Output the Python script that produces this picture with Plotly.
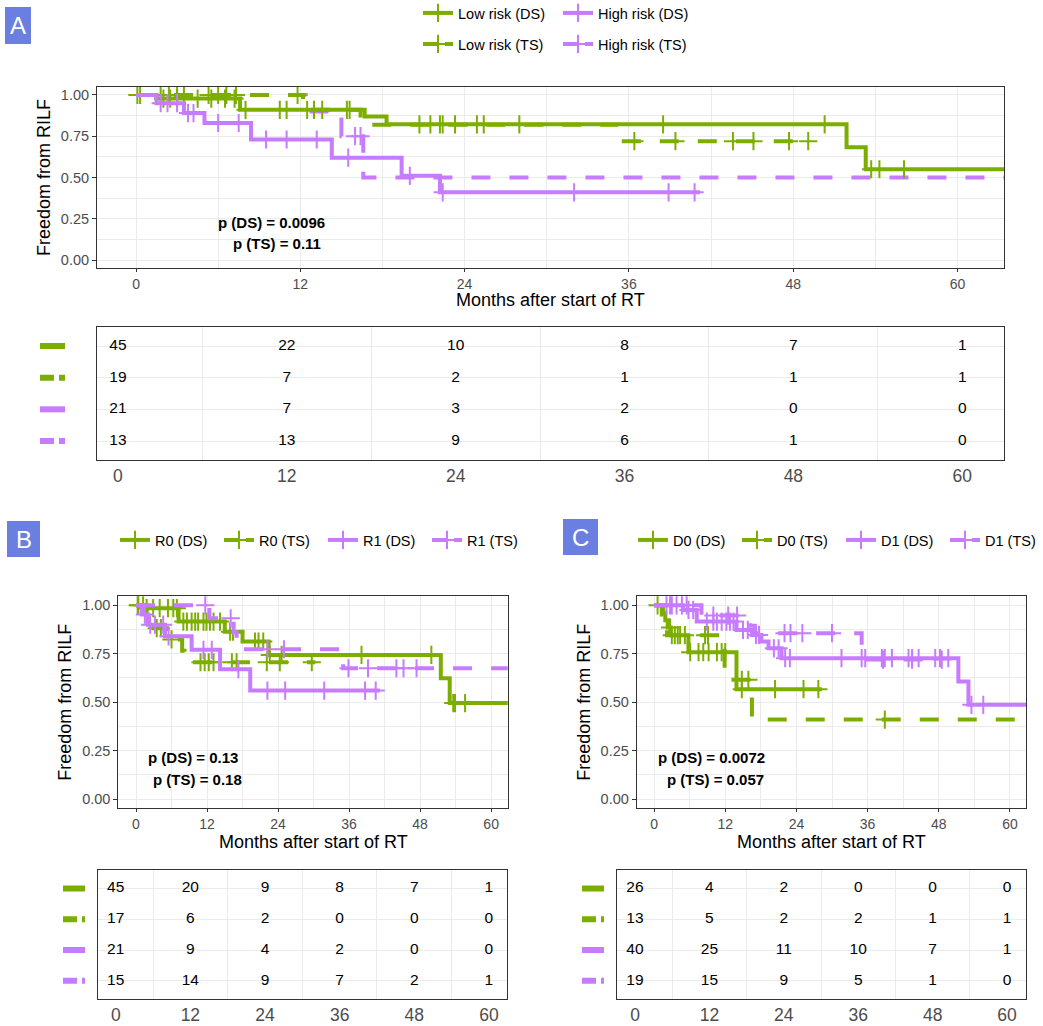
import plotly.graph_objects as go

GREEN = "#7CAE00"
PURPLE = "#C77CFF"
FONT = "Liberation Sans, Arial, sans-serif"
W, H = 1043, 1026

# ---------------- data: Panel A ----------------
A_names = ["Low risk (DS)", "High risk (DS)", "Low risk (TS)", "High risk (TS)"]
A_low_ds_t = [0, 1.5, 7.6, 16.7, 18.3, 51.9, 53.3]
A_low_ds_s = [1.0, 0.978, 0.91, 0.87, 0.822, 0.683, 0.55]
A_low_ds_c = [0.1, 2.0, 2.5, 3.0, 4.5, 5.5, 6.5, 7.2, 8.0, 10.5, 11.0, 12.5, 13.0, 13.6, 15.6,
              20.7, 21.5, 22.2, 22.4, 23.3, 24.9, 25.4, 28.0, 38.5, 50.3, 53.7, 54.3, 56.1]
A_low_ds_end = 64
A_low_ts_t = [0, 12.2, 16.4, 35.2]
A_low_ts_s = [1.0, 0.91, 0.82, 0.72]
A_low_ts_c = [0.3, 1.8, 2.4, 3.0, 3.5, 5.3, 6.0, 6.6, 7.3, 11.8, 15.4, 36.4, 39.4, 43.6, 45.1, 47.7, 49.1]
A_low_ts_end = 49.1
A_high_ds_t = [0, 1.5, 3.5, 5.0, 8.4, 14.3, 19.4, 22.2]
A_high_ds_s = [1.0, 0.95, 0.89, 0.83, 0.73, 0.62, 0.51, 0.41]
A_high_ds_c = [1.8, 2.3, 3.0, 3.8, 4.2, 6.0, 7.5, 9.5, 11.0, 13.2, 15.5, 20.0, 22.4, 32.0, 38.9, 40.8]
A_high_ds_end = 41.2
A_high_ts_t = [0, 12.4, 15.0, 16.6]
A_high_ts_s = [1.0, 0.9, 0.75, 0.5]
A_high_ts_c = [16.0, 16.4]
A_high_ts_end = 64
A_risk = [[45, 22, 10, 8, 7, 1],
          [19, 7, 2, 1, 1, 1],
          [21, 7, 3, 2, 0, 0],
          [13, 13, 9, 6, 1, 0]]
A_p = ["p (DS) = 0.0096", "p (TS) = 0.11"]

# ---------------- data: Panel B ----------------
B_names = ["R0 (DS)", "R0 (TS)", "R1 (DS)", "R1 (TS)"]
B_r0_ds_t = [0, 1.0, 7.2, 15.0, 18.0, 22.4, 51.5, 53.0]
B_r0_ds_s = [1.0, 0.985, 0.916, 0.864, 0.813, 0.744, 0.624, 0.495]
B_r0_ds_c = [0.4, 1.8, 2.9, 4.0, 5.4, 6.3, 6.9, 8.0, 8.6, 9.4, 10.0, 10.5, 11.4, 11.9, 12.5, 13.1,
             14.2, 15.9, 16.4, 20.1, 20.7, 21.5, 22.6, 24.6, 38.1, 49.9, 53.6, 53.9, 55.6]
B_r0_ds_end = 64
B_r0_ts_t = [0, 1.8, 3.0, 5.3, 7.8, 8.2]
B_r0_ts_s = [1.0, 0.941, 0.882, 0.824, 0.765, 0.706]
B_r0_ts_c = [0.3, 1.2, 3.5, 4.2, 6.0, 10.9, 11.6, 12.3, 13.1, 16.2, 17.0, 22.1, 24.3, 29.7]
B_r0_ts_end = 30.3
B_r1_ds_t = [0, 1.0, 2.0, 4.9, 9.4, 14.2, 19.3]
B_r1_ds_s = [1.0, 0.952, 0.9, 0.84, 0.77, 0.67, 0.56]
B_r1_ds_c = [1.5, 2.4, 3.2, 4.6, 5.5, 11.4, 12.8, 17.3, 22.2, 25.2, 31.8, 38.7, 40.5]
B_r1_ds_end = 41.2
B_r1_ts_t = [0, 12.4, 16.5, 17.0, 35.0]
B_r1_ts_s = [1.0, 0.933, 0.86, 0.773, 0.675]
B_r1_ts_c = [11.7, 16.0, 22.2, 25.0, 35.9, 39.2, 44.0, 45.2, 47.4]
B_r1_ts_end = 64
B_risk = [[45, 20, 9, 8, 7, 1],
          [17, 6, 2, 0, 0, 0],
          [21, 9, 4, 2, 0, 0],
          [15, 14, 9, 7, 2, 1]]
B_p = ["p (DS) = 0.13", "p (TS) = 0.18"]

# ---------------- data: Panel C ----------------
C_names = ["D0 (DS)", "D0 (TS)", "D1 (DS)", "D1 (TS)"]
C_d0_ds_t = [0, 1.5, 1.9, 2.3, 2.8, 5.8, 13.9]
C_d0_ds_s = [1.0, 0.962, 0.923, 0.885, 0.846, 0.758, 0.567]
C_d0_ds_c = [0.6, 2.7, 3.5, 4.4, 5.2, 6.1, 7.5, 8.3, 9.2, 10.6, 11.4, 12.0, 14.8, 20.4, 25.2, 27.7]
C_d0_ds_end = 28.3
C_d0_ts_t = [0, 1.3, 2.2, 11.9, 16.5]
C_d0_ts_s = [1.0, 0.923, 0.846, 0.615, 0.41]
C_d0_ts_c = [3.0, 4.0, 8.6, 9.1, 14.8, 15.9, 38.9]
C_d0_ts_end = 64
C_d1_ds_t = [0, 4.9, 7.2, 13.9, 16.5, 18.1, 19.3, 21.5, 51.3, 53.0]
C_d1_ds_s = [1.0, 0.976, 0.916, 0.873, 0.847, 0.813, 0.778, 0.727, 0.607, 0.486]
C_d1_ds_c = [2.1, 2.7, 3.8, 4.7, 5.8, 6.6, 8.9, 10.0, 10.6, 11.4, 12.2, 12.8, 13.4, 15.0, 15.8, 17.2,
             17.7, 20.2, 21.0, 22.1, 22.9, 31.6, 35.0, 35.6, 38.4, 38.9, 40.1, 42.9, 43.5, 44.6,
             47.4, 48.2, 49.6, 53.5, 55.5]
C_d1_ds_end = 64
C_d1_ts_t = [0, 8.0, 16.2, 17.0, 35.0]
C_d1_ts_s = [1.0, 0.947, 0.895, 0.856, 0.72]
C_d1_ts_c = [3.0, 5.5, 10.0, 12.5, 14.0, 22.0, 23.0, 25.0, 30.0, 38.6, 43.5, 48.5]
C_d1_ts_end = 48.5
C_risk = [[26, 4, 2, 0, 0, 0],
          [13, 5, 2, 2, 1, 1],
          [40, 25, 11, 10, 7, 1],
          [19, 15, 9, 5, 1, 0]]
C_p = ["p (DS) = 0.0072", "p (TS) = 0.057"]

risk_times = [0, 12, 24, 36, 48, 60]
x_ticks = [0, 12, 24, 36, 48, 60]
y_ticks = [0, 0.25, 0.5, 0.75, 1.0]
x_title = "Months after start of RT"
y_title = "Freedom from RILF"

fig = go.Figure()

DASH = "19px,19px"


def surv_at(ts, ss, c):
    v = ss[0]
    for t, s in zip(ts, ss):
        if t <= c:
            v = s
    return v


def add_curve(ts, ss, cens, end, color, dashed, xa, ya):
    fig.add_trace(go.Scatter(
        x=list(ts) + [end], y=list(ss) + [ss[-1]], mode="lines",
        line=dict(color=color, width=4, shape="hv", dash=DASH if dashed else "solid"),
        xaxis=xa, yaxis=ya, showlegend=False, hoverinfo="skip"))
    fig.add_trace(go.Scatter(
        x=cens, y=[surv_at(ts, ss, c) for c in cens], mode="markers",
        marker=dict(symbol="cross-thin", size=13, line=dict(color=color, width=2)),
        xaxis=xa, yaxis=ya, showlegend=False, hoverinfo="skip"))


def add_legend_item(name, color, dashed, legend):
    fig.add_trace(go.Scatter(
        x=[None], y=[None], mode="lines+markers", name=name, legend=legend,
        line=dict(color=color, width=4, dash="16px,6px" if dashed else "solid"),
        marker=dict(symbol="cross-thin", size=13, line=dict(color=color, width=2)),
        xaxis="x", yaxis="y"))


# Panel A curves (plot axes x/y)
add_curve(A_high_ts_t, A_high_ts_s, A_high_ts_c, A_high_ts_end, PURPLE, True, "x", "y")
add_curve(A_low_ds_t, A_low_ds_s, A_low_ds_c, A_low_ds_end, GREEN, False, "x", "y")
add_curve(A_low_ts_t, A_low_ts_s, A_low_ts_c, A_low_ts_end, GREEN, True, "x", "y")
add_curve(A_high_ds_t, A_high_ds_s, A_high_ds_c, A_high_ds_end, PURPLE, False, "x", "y")
# Panel B curves (x3/y3)
add_curve(B_r0_ds_t, B_r0_ds_s, B_r0_ds_c, B_r0_ds_end, GREEN, False, "x3", "y3")
add_curve(B_r0_ts_t, B_r0_ts_s, B_r0_ts_c, B_r0_ts_end, GREEN, True, "x3", "y3")
add_curve(B_r1_ds_t, B_r1_ds_s, B_r1_ds_c, B_r1_ds_end, PURPLE, False, "x3", "y3")
add_curve(B_r1_ts_t, B_r1_ts_s, B_r1_ts_c, B_r1_ts_end, PURPLE, True, "x3", "y3")
# Panel C curves (x5/y5)
add_curve(C_d0_ds_t, C_d0_ds_s, C_d0_ds_c, C_d0_ds_end, GREEN, False, "x5", "y5")
add_curve(C_d0_ts_t, C_d0_ts_s, C_d0_ts_c, C_d0_ts_end, GREEN, True, "x5", "y5")
add_curve(C_d1_ds_t, C_d1_ds_s, C_d1_ds_c, C_d1_ds_end, PURPLE, False, "x5", "y5")
add_curve(C_d1_ts_t, C_d1_ts_s, C_d1_ts_c, C_d1_ts_end, PURPLE, True, "x5", "y5")

# Legends
add_legend_item(A_names[0], GREEN, False, "legend")
add_legend_item(A_names[1], PURPLE, False, "legend")
add_legend_item(A_names[2], GREEN, True, "legend2")
add_legend_item(A_names[3], PURPLE, True, "legend2")
add_legend_item(B_names[0], GREEN, False, "legend3")
add_legend_item(B_names[1], GREEN, True, "legend3")
add_legend_item(B_names[2], PURPLE, False, "legend3")
add_legend_item(B_names[3], PURPLE, True, "legend3")
add_legend_item(C_names[0], GREEN, False, "legend4")
add_legend_item(C_names[1], GREEN, True, "legend4")
add_legend_item(C_names[2], PURPLE, False, "legend4")
add_legend_item(C_names[3], PURPLE, True, "legend4")

# Risk tables
row_y = [4, 3, 2, 1]
for risk, xa, ya in [(A_risk, "x2", "y2"), (B_risk, "x4", "y4"), (C_risk, "x6", "y6")]:
    for r, vals in enumerate(risk):
        fig.add_trace(go.Scatter(
            x=risk_times, y=[row_y[r]] * len(vals), mode="text",
            text=[str(v) for v in vals], textposition="middle center",
            textfont=dict(family=FONT, size=15.5, color="black"),
            xaxis=xa, yaxis=ya, showlegend=False, hoverinfo="skip", cliponaxis=False))


def px_x(p):
    return p / W


def px_y(p):
    return 1 - p / H


GRID = "#EBEBEB"
BORDER = "#333333"
TICKC = "#4D4D4D"


def plot_axes(xdom, ydom, xrange, anchor_x, anchor_y):
    xa = dict(domain=xdom, range=xrange, anchor=anchor_y, tickvals=x_ticks,
              ticks="outside", ticklen=3, tickcolor=BORDER, tickwidth=1,
              tickfont=dict(family=FONT, size=14, color=TICKC),
              showgrid=True, gridcolor=GRID, gridwidth=1.3,
              minor=dict(tickvals=[6, 18, 30, 42, 54], showgrid=True, gridcolor=GRID, gridwidth=0.6),
              showline=True, linecolor=BORDER, linewidth=1, mirror=True, zeroline=False)
    ya = dict(domain=ydom, range=[-0.048, 1.048], anchor=anchor_x, tickvals=y_ticks,
              tickformat=".2f", ticks="outside", ticklen=4, tickcolor=BORDER, tickwidth=1,
              tickfont=dict(family=FONT, size=14.5, color=TICKC),
              showgrid=True, gridcolor=GRID, gridwidth=1.3,
              minor=dict(tickvals=[0.125, 0.375, 0.625, 0.875], showgrid=True, gridcolor=GRID, gridwidth=0.6),
              showline=True, linecolor=BORDER, linewidth=1, mirror=True, zeroline=False,
              title=dict(text=y_title, font=dict(family=FONT, size=18, color="black"),
                         standoff=5))
    return xa, ya


def table_axes(xdom, ydom, xrange, anchor_x, anchor_y):
    xa = dict(domain=xdom, range=xrange, anchor=anchor_y, tickvals=x_ticks, ticks="",
              tickfont=dict(family=FONT, size=17.5, color=TICKC),
              showgrid=False,
              minor=dict(tickvals=[6, 18, 30, 42, 54], showgrid=True, gridcolor=GRID, gridwidth=1),
              showline=True, linecolor=BORDER, linewidth=1, mirror=True, zeroline=False)
    ya = dict(domain=ydom, range=[0.4, 4.6], anchor=anchor_x, tickvals=[1, 2, 3, 4],
              showticklabels=False, ticks="", showgrid=True, gridcolor=GRID, gridwidth=1.3,
              showline=True, linecolor=BORDER, linewidth=1, mirror=True, zeroline=False)
    return xa, ya


xa1, ya1 = plot_axes([px_x(97), px_x(1004)], [px_y(268), px_y(87)], [-2.85, 63.4], "x", "y")
xa2, ya2 = table_axes([px_x(97), px_x(1004)], [px_y(460), px_y(327)], [-1.49, 62.97], "x2", "y2")
xa3, ya3 = plot_axes([px_x(118.3), px_x(507.7)], [px_y(808.3), px_y(596)], [-2.99, 62.8], "x3", "y3")
xa4, ya4 = table_axes([px_x(97.7), px_x(507.3)], [px_y(999.3), px_y(870)], [-2.9, 62.96], "x4", "y4")
xa5, ya5 = plot_axes([px_x(636.7), px_x(1026)], [px_y(808.3), px_y(596)], [-2.92, 62.7], "x5", "y5")
xa6, ya6 = table_axes([px_x(616.7), px_x(1026.3)], [px_y(999.3), px_y(870)], [-2.95, 63.1], "x6", "y6")

shapes = []
annotations = []

# x-axis titles
for cx, cy in [(550.5, 300), (313, 842), (831.4, 842)]:
    annotations.append(dict(text=x_title, xref="paper", yref="paper", x=px_x(cx), y=px_y(cy),
                            showarrow=False, font=dict(family=FONT, size=18, color="black"),
                            xanchor="center", yanchor="middle"))

# table line-type keys
for (x0, x1, yref) in [(40, 65, "y2"), (63, 85, "y4"), (582, 604, "y6")]:
    for r, (col, dashed) in enumerate([(GREEN, False), (GREEN, True), (PURPLE, False), (PURPLE, True)]):
        shapes.append(dict(type="line", xref="paper", yref=yref, x0=px_x(x0), x1=px_x(x1),
                           y0=row_y[r], y1=row_y[r],
                           line=dict(color=col, width=6, dash="14px,5px" if dashed else "solid")))

# panel letter boxes
for letter, (x0, y0, x1, y1) in [("A", (5, 7, 31, 44)), ("B", (7, 521, 40, 557)), ("C", (563, 519, 598, 555))]:
    shapes.append(dict(type="rect", xref="paper", yref="paper", x0=px_x(x0), x1=px_x(x1),
                       y0=px_y(y1), y1=px_y(y0), fillcolor="#6A7FE0", line=dict(width=0)))
    annotations.append(dict(text=letter, xref="paper", yref="paper", x=px_x((x0 + x1) / 2),
                            y=px_y((y0 + y1) / 2), showarrow=False,
                            font=dict(family=FONT, size=24, color="white"),
                            xanchor="center", yanchor="middle"))

# p-values
for p, xr, yr, pos in [(A_p, "x", "y", [(9.9, 0.23), (10.3, 0.103)]),
                       (B_p, "x3", "y3", [(9.7, 0.214), (10.4, 0.10)]),
                       (C_p, "x5", "y5", [(9.65, 0.214), (10.4, 0.10)])]:
    for txt, (xx, yy) in zip(p, pos):
        annotations.append(dict(text="<b>%s</b>" % txt, xref=xr, yref=yr, x=xx, y=yy, showarrow=False,
                                font=dict(family=FONT, size=15, color="black"),
                                xanchor="center", yanchor="middle"))

leg_common = dict(orientation="h", bgcolor="rgba(0,0,0,0)", font=dict(family=FONT, size=14.5, color="black"),
                  itemwidth=30, xanchor="left", yanchor="middle", tracegroupgap=0,
                  entrywidthmode="pixels", xref="container", yref="container")

fig.update_layout(
    width=W, height=H, margin=dict(l=0, r=0, t=0, b=0, autoexpand=False),
    paper_bgcolor="white", plot_bgcolor="white",
    font=dict(family=FONT),
    xaxis=xa1, yaxis=ya1, xaxis2=xa2, yaxis2=ya2, xaxis3=xa3, yaxis3=ya3,
    xaxis4=xa4, yaxis4=ya4, xaxis5=xa5, yaxis5=ya5, xaxis6=xa6, yaxis6=ya6,
    shapes=shapes, annotations=annotations,
    legend=dict(x=px_x(418), y=px_y(13), entrywidth=95, **leg_common),
    legend2=dict(x=px_x(418), y=px_y(44), entrywidth=95, **leg_common),
    legend3=dict(x=px_x(115), y=px_y(540), entrywidth=59, **leg_common),
    legend4=dict(x=px_x(633), y=px_y(540), entrywidth=59, **leg_common),
    showlegend=True,
)

fig.write_html("out.html", config={"displayModeBar": False},
               post_script="document.body.style.margin='0';")
